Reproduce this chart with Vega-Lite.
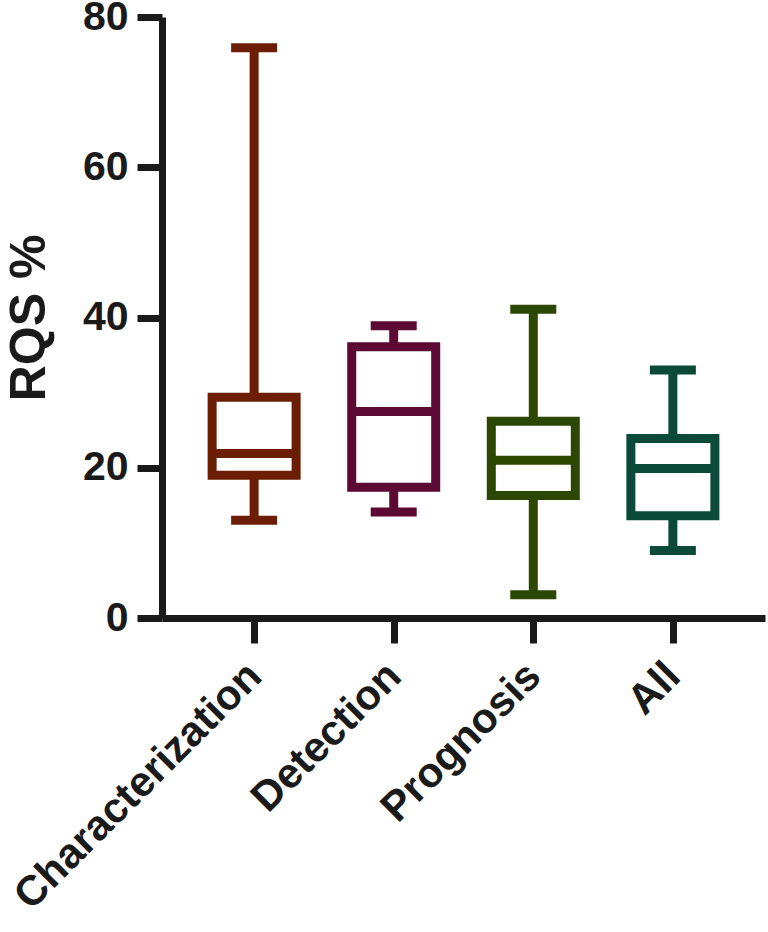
{
  "$schema": "https://vega.github.io/schema/vega-lite/v6.json",
  "width": 603,
  "height": 601,
  "autosize": "none",
  "padding": {"left": 162, "top": 17, "right": 3, "bottom": 314},
  "background": "white",
  "config": {"view": {"stroke": null}, "font": "Liberation Sans"},
  "data": {
    "values": [
      {"cat": "Characterization", "min": 13.0, "q1": 19.0, "median": 21.9, "q3": 29.4, "max": 75.9},
      {"cat": "Detection", "min": 14.1, "q1": 17.4, "median": 27.5, "q3": 36.1, "max": 38.9},
      {"cat": "Prognosis", "min": 3.1, "q1": 16.3, "median": 21.0, "q3": 26.2, "max": 41.1},
      {"cat": "All", "min": 9.0, "q1": 13.6, "median": 19.9, "q3": 23.9, "max": 33.0}
    ]
  },
  "encoding": {
    "x": {
      "field": "cat",
      "type": "nominal",
      "sort": ["Characterization", "Detection", "Prognosis", "All"],
      "scale": {"type": "point", "padding": 0.66},
      "title": null,
      "axis": {
        "domain": true,
        "domainColor": "#1a1a1a",
        "domainWidth": 7,
        "ticks": true,
        "tickColor": "#1a1a1a",
        "tickSize": 25,
        "tickWidth": 7,
        "labelFontSize": 42,
        "labelFontWeight": "bold",
        "labelColor": "#1a1a1a",
        "labelAngle": -45,
        "labelAlign": "right",
        "labelBaseline": "middle",
        "labelPadding": 26,
        "labelLimit": 0,
        "labelOverlap": false,
        "labelFont": "Liberation Sans"
      }
    }
  },
  "layer": [
    {
      "mark": {"type": "rule", "strokeWidth": 9},
      "encoding": {
        "y": {
          "field": "min",
          "type": "quantitative",
          "scale": {"domain": [0, 80], "nice": false},
          "axis": {
            "values": [0, 20, 40, 60, 80],
            "grid": false,
            "domainColor": "#1a1a1a",
            "domainWidth": 7,
            "tickColor": "#1a1a1a",
            "tickSize": 25,
            "tickWidth": 7,
            "labelFontSize": 41,
            "labelFontWeight": "bold",
            "labelColor": "#1a1a1a",
            "labelPadding": 9,
            "labelFont": "Liberation Sans",
            "title": "RQS %",
            "titleFontSize": 50,
            "titleFontWeight": "bold",
            "titleColor": "#1a1a1a",
            "titlePadding": 28,
            "titleFont": "Liberation Sans"
          }
        },
        "y2": {"field": "max"},
        "color": {
          "field": "cat",
          "type": "nominal",
          "scale": {"domain": ["Characterization", "Detection", "Prognosis", "All"], "range": ["#6b1e03", "#5c0a33", "#2b4700", "#0b4a38"]},
          "legend": null
        }
      }
    },
    {
      "mark": {"type": "bar", "size": 84, "fill": "white", "strokeWidth": 9},
      "encoding": {
        "y": {"field": "q1", "type": "quantitative"},
        "y2": {"field": "q3"},
        "stroke": {
          "field": "cat",
          "type": "nominal",
          "scale": {"domain": ["Characterization", "Detection", "Prognosis", "All"], "range": ["#6b1e03", "#5c0a33", "#2b4700", "#0b4a38"]},
          "legend": null
        }
      }
    },
    {
      "mark": {"type": "tick", "size": 84, "thickness": 9, "opacity": 1},
      "encoding": {
        "y": {"field": "median", "type": "quantitative"},
        "color": {"field": "cat", "type": "nominal", "legend": null}
      }
    },
    {
      "mark": {"type": "tick", "size": 46, "thickness": 9, "opacity": 1},
      "encoding": {
        "y": {"field": "min", "type": "quantitative"},
        "color": {"field": "cat", "type": "nominal", "legend": null}
      }
    },
    {
      "mark": {"type": "tick", "size": 46, "thickness": 9, "opacity": 1},
      "encoding": {
        "y": {"field": "max", "type": "quantitative"},
        "color": {"field": "cat", "type": "nominal", "legend": null}
      }
    }
  ]
}
